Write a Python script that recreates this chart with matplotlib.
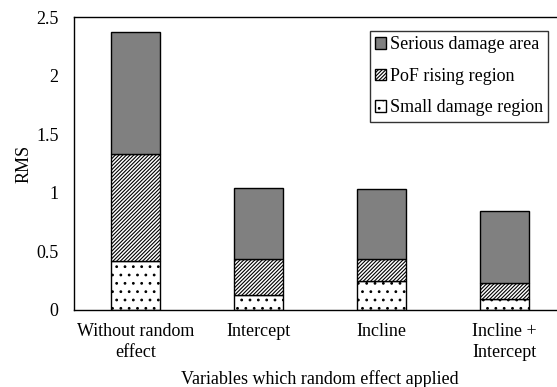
import matplotlib
matplotlib.use("Agg")
import matplotlib.pyplot as plt
import numpy as np

plt.rcParams['font.family'] = ['Liberation Serif', 'DejaVu Serif']
plt.rcParams['hatch.linewidth'] = 0.8

categories = ["Without random\neffect", "Intercept", "Incline", "Incline +\nIntercept"]
small_damage = [0.418, 0.128, 0.245, 0.094]
pof_rising = [0.912, 0.304, 0.187, 0.139]
serious_damage = [1.04, 0.612, 0.598, 0.612]
yticks = [0, 0.5, 1, 1.5, 2, 2.5]
yticklabels = ["0", "0.5", "1", "1.5", "2", "2.5"]

FS = 13
fig = plt.figure(figsize=(5.57, 3.87), dpi=100)
W, H = 557, 387
ax = fig.add_axes([74 / W, (H - 310) / H, (566 - 74) / W, (310 - 17) / H])

x = np.arange(len(categories))
w = 0.4
b1 = ax.bar(x, small_damage, w, color='white', edgecolor='black', hatch='..', linewidth=1,
            label='Small damage region')
b2 = ax.bar(x, pof_rising, w, bottom=small_damage, color='white', edgecolor='black', hatch='/' * 9,
            linewidth=1, label='PoF rising region')
bottom3 = np.array(small_damage) + np.array(pof_rising)
b3 = ax.bar(x, serious_damage, w, bottom=bottom3, color='#808080', edgecolor='black', linewidth=1,
            label='Serious damage area')

ax.set_xlim(-0.5, 3.5)
ax.set_ylim(0, 2.5)
ax.set_yticks(yticks)
ax.set_yticklabels(yticklabels, fontsize=FS)
ax.set_xticks(x)
ax.set_xticklabels(categories, fontsize=FS, linespacing=1.35)
ax.tick_params(axis='y', length=0, pad=11)
ax.tick_params(axis='x', length=0, pad=9)
for s in ax.spines.values():
    s.set_linewidth(1)
ax.set_ylabel("RMS", fontsize=FS, labelpad=3)
ax.set_xlabel("Variables which random effect applied", fontsize=FS, labelpad=6.5)

leg = ax.legend(handles=[b3, b2, b1], loc='upper left',
                bbox_to_anchor=((370 - 74) / (566 - 74), 1 - (31 - 17) / (310 - 17)),
                fontsize=FS, frameon=True, fancybox=False, edgecolor='black',
                handlelength=0.6, handleheight=0.6, handletextpad=0.2, borderpad=0.3,
                labelspacing=0.8, borderaxespad=0)
leg.get_frame().set_linewidth(1)

fig.savefig("out.png", dpi=100)
